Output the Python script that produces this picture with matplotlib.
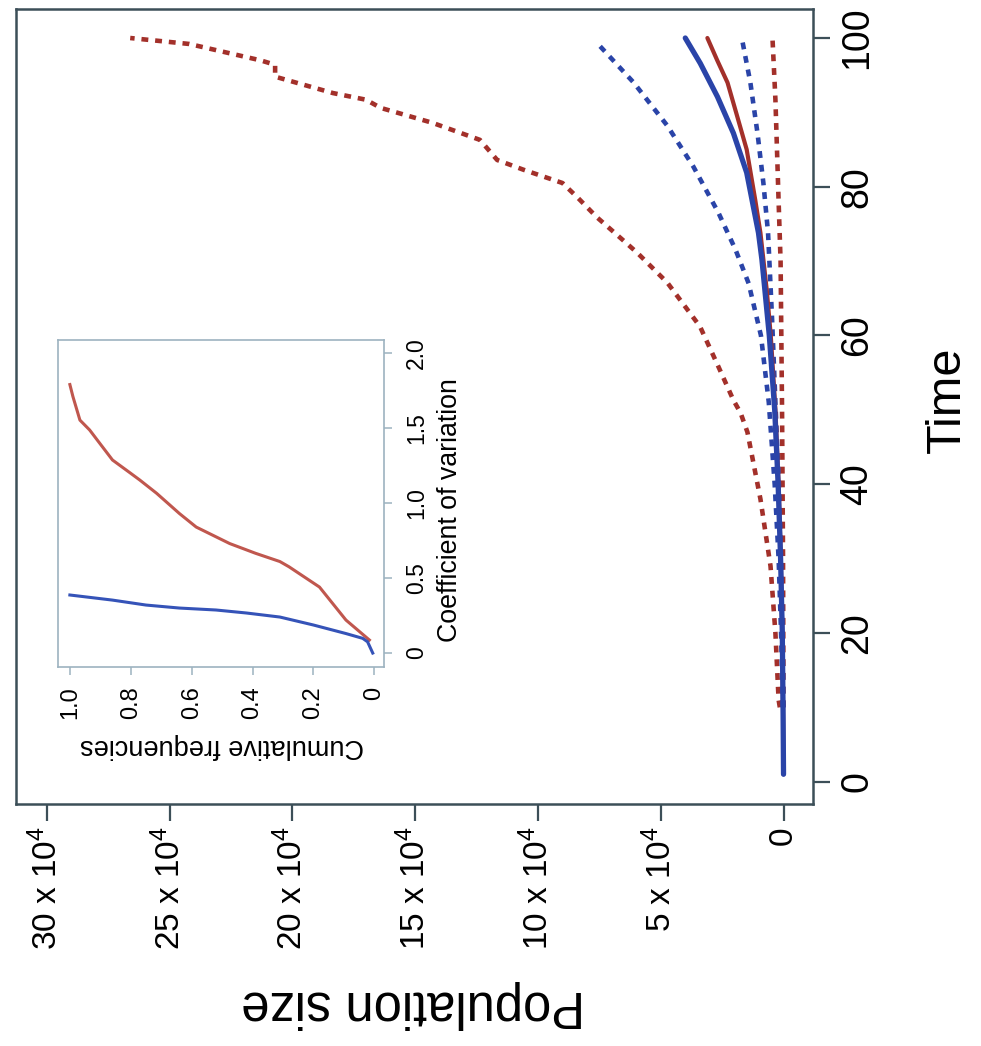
import matplotlib
matplotlib.use('Agg')
import matplotlib.pyplot as plt

plt.rcParams['font.family'] = ['Liberation Sans', 'DejaVu Sans']
plt.rcParams['mathtext.fontset'] = 'custom'
plt.rcParams['mathtext.rm'] = 'Liberation Sans'

# ---------------- data (population in units of 10^4) ----------------
blue_mean_t = [1, 10, 20, 30, 40, 50, 60, 70.2, 73.8, 81.9, 87.2, 92.1, 96.6, 100]
blue_mean_p = [0.0, 0.02, 0.05, 0.12, 0.22, 0.36, 0.58, 0.88, 1.02, 1.50, 2.04, 2.69, 3.39, 4.0]

red_mean_t = [1, 10, 20, 30, 40, 50, 60, 66, 73.8, 78.2, 85, 89.4, 94, 97, 100]
red_mean_p = [0.0, 0.02, 0.05, 0.11, 0.20, 0.33, 0.52, 0.68, 0.94, 1.15, 1.50, 1.88, 2.28, 2.70, 3.10]

blue_hi_t = [10, 20, 30, 40, 51, 60, 67, 71.5, 76.5, 82.7, 88.2, 94, 99]
blue_hi_p = [0.03, 0.10, 0.20, 0.36, 0.60, 0.92, 1.42, 1.95, 2.65, 3.67, 4.73, 6.10, 7.50]

blue_lo_t = [10, 20, 30, 40, 51, 62.5, 73.8, 80.5, 87.2, 94, 99.5]
blue_lo_p = [0.01, 0.04, 0.10, 0.19, 0.33, 0.47, 0.63, 0.82, 1.06, 1.35, 1.67]

red_hi_t = [10, 11, 20, 29, 38, 47, 49.6, 51.3, 55.8, 61.2, 67.1, 71.1, 72.8, 75.9, 78.6,
            80.5, 82.3, 83.6, 86.3, 88.6, 90.6, 91.7, 92.6, 94.8, 96.4, 97, 99.2, 100]
red_hi_p = [0.15, 0.20, 0.33, 0.53, 0.94, 1.47, 1.75, 2.04, 2.65, 3.40, 4.73, 5.95, 6.53, 7.6, 8.4,
            9.0, 10.6, 11.66, 12.36, 14.3, 16.4, 17.0, 18.35, 20.7, 20.7, 21.3, 24.2, 26.6]

red_lo_t = [10, 20, 30, 40, 50, 60, 70, 78, 91.7, 100]
red_lo_p = [0.0, 0.01, 0.02, 0.04, 0.06, 0.09, 0.12, 0.20, 0.33, 0.45]

pop_ticks = [0, 5, 10, 15, 20, 25, 30]
pop_labels = ['0'] + [r'%d x $\mathregular{10^{4}}$' % v for v in pop_ticks[1:]]
time_ticks = [0, 20, 40, 60, 80, 100]

# inset: empirical cumulative distributions of coefficient of variation
blue_cf = [0.005, 0.022, 0.038, 0.093, 0.20, 0.31, 0.42, 0.52, 0.64, 0.75, 0.86, 1.0]
blue_cv = [0.0, 0.075, 0.098, 0.13, 0.187, 0.24, 0.267, 0.287, 0.30, 0.32, 0.353, 0.387]
red_cf = [0.016, 0.093, 0.18, 0.28, 0.31, 0.39, 0.475, 0.585, 0.64, 0.715, 0.77, 0.80,
          0.86, 0.91, 0.935, 0.967, 0.99, 1.0]
red_cv = [0.087, 0.22, 0.44, 0.575, 0.61, 0.665, 0.73, 0.84, 0.93, 1.065, 1.153, 1.198,
          1.287, 1.42, 1.487, 1.553, 1.71, 1.79]
cf_ticks = [0, 0.2, 0.4, 0.6, 0.8, 1.0]
cf_labels = ['0', '0.2', '0.4', '0.6', '0.8', '1.0']
cv_ticks = [0, 0.5, 1.0, 1.5, 2.0]
cv_labels = ['0', '0.5', '1.0', '1.5', '2.0']

# ---------------- styling ----------------
RED = '#A3302A'
BLUE = '#2A44A8'
RED_L = '#C0574E'
BLUE_L = '#3553B8'
FRAME = '#3C4F58'
IFRAME = '#9DB3C0'

W, H = 981, 1046
fig = plt.figure(figsize=(W / 100, H / 100), dpi=100)
fig.patch.set_facecolor('white')

def fx(px):
    return px / W

def fy(py):
    return 1 - py / H

ax = fig.add_axes([fx(16), fy(804), fx(813) - fx(16), fy(9) - fy(804)])
dot = dict(linestyle=(0, (1.5, 1.5)), lw=3.3, dash_capstyle='butt')
ax.plot(red_hi_p, red_hi_t, color=RED, **dot)
ax.plot(red_lo_p, red_lo_t, color=RED, **dot)
ax.plot(blue_hi_p, blue_hi_t, color=BLUE, **dot)
ax.plot(blue_lo_p, blue_lo_t, color=BLUE, **dot)
ax.plot(red_mean_p, red_mean_t, color=RED, lw=3.0, solid_capstyle='round')
ax.plot(blue_mean_p, blue_mean_t, color=BLUE, lw=3.8, solid_capstyle='round')

ax.set_xlim(31.25, -1.2)
ax.set_ylim(-3.0, 103.9)
ax.set_xticks(pop_ticks)
ax.set_xticklabels(pop_labels)
ax.yaxis.tick_right()
ax.set_yticks(time_ticks)
ax.set_yticklabels([str(t) for t in time_ticks])
for s in ax.spines.values():
    s.set_color(FRAME)
    s.set_linewidth(1.8)
ax.tick_params(axis='both', colors=FRAME, length=12, width=1.6, labelcolor='black')
ax.tick_params(axis='x', labelsize=24, labelrotation=90, pad=4)
ax.tick_params(axis='y', labelsize=27, pad=7)
for lab in ax.get_yticklabels():
    lab.set_rotation(90)
    lab.set_va('center')
    lab.set_ha('left')

fig.text(fx(413), fy(1005), 'Population size', rotation=180, fontsize=36.5,
         ha='center', va='center')
fig.text(fx(947), fy(400), 'Time', rotation=90, fontsize=35,
         ha='center', va='center')

# ---------------- inset ----------------
ins = fig.add_axes([fx(58), fy(667), fx(384) - fx(58), fy(340) - fy(667)])
ins.plot(red_cf, red_cv, color=RED_L, lw=2.2)
ins.plot(blue_cf, blue_cv, color=BLUE_L, lw=2.2)
ins.set_xlim(1.039, -0.032)
ins.set_ylim(-0.093, 2.087)
ins.set_xticks(cf_ticks)
ins.set_xticklabels(cf_labels)
ins.yaxis.tick_right()
ins.set_yticks(cv_ticks)
ins.set_yticklabels(cv_labels)
for s in ins.spines.values():
    s.set_color(IFRAME)
    s.set_linewidth(1.2)
ins.tick_params(axis='both', colors=IFRAME, length=6, width=1.1, labelcolor='black')
ins.tick_params(axis='x', labelsize=17, labelrotation=90, pad=8)
ins.tick_params(axis='y', labelsize=16.5, pad=9)
for lab in ins.get_yticklabels():
    lab.set_rotation(90)
    lab.set_va('center')
    lab.set_ha('left')

fig.text(fx(222), fy(746), 'Cumulative frequencies', rotation=180, fontsize=19.5,
         ha='center', va='center')
fig.text(fx(450), fy(510), 'Coefficient of variation', rotation=90, fontsize=19.3,
         ha='center', va='center')

fig.savefig('out.png', dpi=100, facecolor='white')
